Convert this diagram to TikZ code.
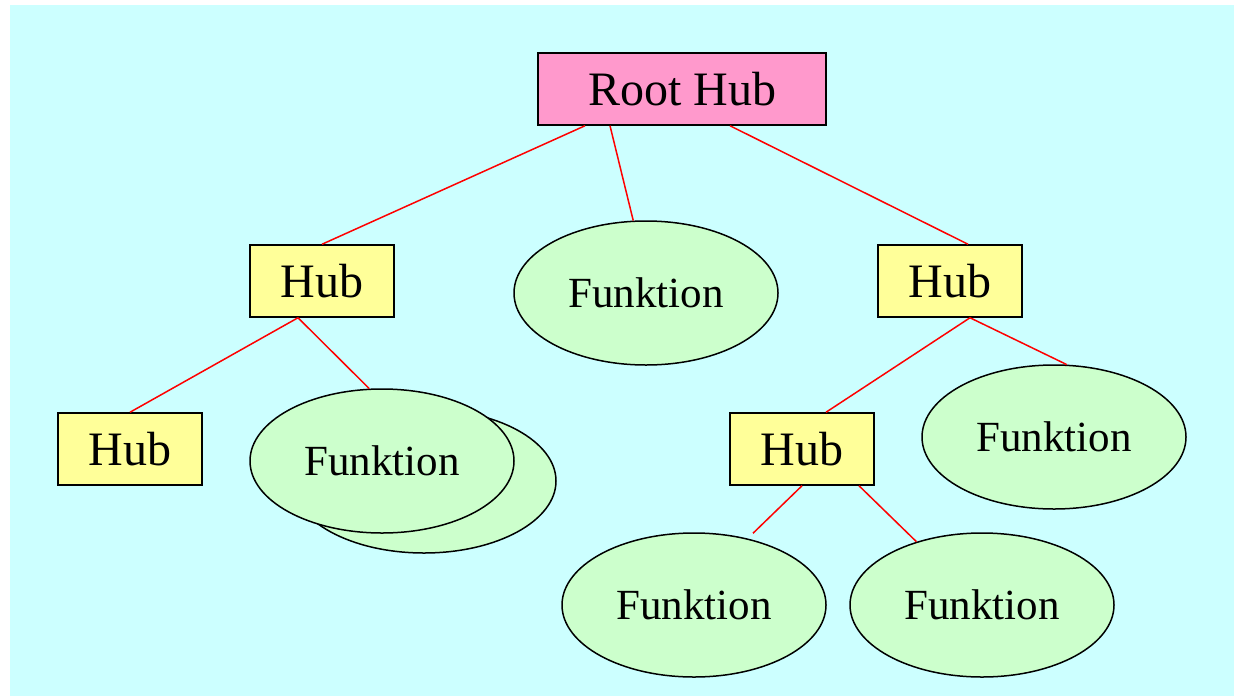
\documentclass[tikz,border=0pt]{standalone}
\usepackage{fontspec}
\setmainfont{Liberation Serif}
\usetikzlibrary{shapes.geometric,positioning}
\definecolor{bgcyan}{HTML}{CCFFFF}
\definecolor{rootpink}{HTML}{FF99CC}
\definecolor{hubyellow}{HTML}{FFFF99}
\definecolor{funkgreen}{HTML}{CCFFCC}
\tikzset{
  hub/.style={rectangle,draw,line width=1.5pt,fill=hubyellow,minimum width=144pt,minimum height=72pt,inner sep=0pt,font=\fontsize{48}{56}\selectfont},
  roothub/.style={hub,fill=rootpink,minimum width=288pt},
  funk/.style={ellipse,draw,line width=1.5pt,fill=funkgreen,minimum width=264pt,minimum height=144pt,inner sep=0pt,font=\fontsize{43}{50}\selectfont},
  link/.style={red,line width=1.5pt}
}
\begin{document}
\begin{tikzpicture}[x=1pt,y=-1pt,on grid]
   \useasboundingbox (0,0) rectangle (1238,696);
   \fill[bgcyan] (10,5) rectangle (1234,696);
   \node[roothub] (root) at (682,89) {Root Hub};
   \node[hub] (hubL) [below left=192pt and 360pt of root] {Hub};
   \node[funk] (funC) [below left=204pt and 36pt of root] {Funktion};
   \node[hub] (hubR) [below right=192pt and 268pt of root] {Hub};
   \node[hub] (hubLL) [below left=168pt and 192pt of hubL] {Hub};
   \node[funk] (funLb) [below right=200pt and 102pt of hubL] {};
   \node[funk] (funL) [below right=180pt and 60pt of hubL] {Funktion};
   \node[hub] (hubRL) [below left=168pt and 148pt of hubR] {Hub};
   \node[funk] (funR) [below right=156pt and 104pt of hubR] {Funktion};
   \node[funk] (funBL) [below left=156pt and 108pt of hubRL] {Funktion};
   \node[funk] (funBR) [below right=156pt and 180pt of hubRL] {Funktion};
   \coordinate (gapBL) at ([xshift=59pt,yshift=-1pt]funBL.north);
   \path[link]
   ([xshift=-97pt]root.south) edge (hubL.north)
   ([xshift=-72pt]root.south) edge (funC.100)
   ([xshift=48pt]root.south) edge ([xshift=18pt]hubR.north)
   ([xshift=-24pt]hubL.south) edge (hubLL.north)
   ([xshift=-24pt]hubL.south) edge (funL.100)
   ([xshift=20pt]hubR.south) edge ([xshift=24pt]hubRL.north)
   ([xshift=20pt]hubR.south) edge (funR.80)
   (hubRL.south) edge (gapBL)
   ([xshift=57pt]hubRL.south) edge (funBR.136);
\end{tikzpicture}
\end{document}
